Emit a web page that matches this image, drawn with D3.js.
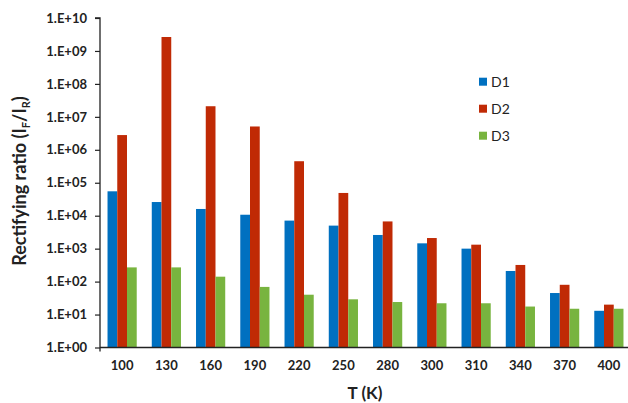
<!DOCTYPE html>
<html>
<head>
<meta charset="utf-8">
<script src="https://cdn.jsdelivr.net/npm/d3@7"></script>
<style>
html,body{margin:0;padding:0;background:#fff;}
svg{display:block;font-family:Lato, "Open Sans", sans-serif;}
</style>
</head>
<body>
<svg id="chart" width="628" height="403"></svg>
<script>
const categories = ["100","130","160","190","220","250","280","300","310","340","370","400"];
const seriesNames = ["D1","D2","D3"];
const D1 = [5.5e4, 2.6e4, 1.6e4, 1.07e4, 7.1e3, 5.0e3, 2.6e3, 1.45e3, 1.0e3, 210, 45, 13];
const D2 = [2.8e6, 2.65e9, 2.1e7, 5.1e6, 4.5e5, 4.9e4, 6.7e3, 2.1e3, 1.32e3, 320, 80, 20];
const D3 = [270, 270, 141, 69, 40, 29, 24, 22, 22, 17.5, 15, 15];
const yTicks = [1e0,1e1,1e2,1e3,1e4,1e5,1e6,1e7,1e8,1e9,1e10];
const colors = ["#0070c0","#c02a05","#78b43f"];

const svg = d3.select("#chart");
const mLeft = 100, mRight = 631, mTop = 18, mBottom = 347.5;

const x0 = d3.scaleBand().domain(categories).range([mLeft, mRight]).paddingInner(0.34).paddingOuter(0.17);
const x1 = d3.scaleBand().domain(seriesNames).range([0, x0.bandwidth()]);
const y = d3.scaleLog().domain([1, 1e10]).range([mBottom, mTop]);

const data = [D1, D2, D3];

const g = svg.append("g");
categories.forEach((c, i) => {
  seriesNames.forEach((s, j) => {
    g.append("rect")
      .attr("x", x0(c) + x1(s))
      .attr("width", x1.bandwidth())
      .attr("y", y(data[j][i]))
      .attr("height", y(1) - y(data[j][i]))
      .attr("fill", colors[j]);
  });
});

function fmt(v){ const e = Math.round(Math.log10(v)); return "1.E+" + (e<10?"0":"") + e; }

// y axis
const yAxis = d3.axisLeft(y).tickValues(yTicks).tickFormat(fmt).tickSize(5).tickPadding(8);
const ya = svg.append("g").attr("transform", `translate(${mLeft},0)`).call(yAxis);
ya.select(".domain").attr("stroke", "#222").attr("stroke-width", 1.3).attr("d", `M-5,${mTop}H0V${mBottom+4}`);
ya.selectAll(".tick line").attr("stroke", "#222").attr("stroke-width", 1.2);
ya.selectAll(".tick text").attr("fill", "#222").style("font-size", "13px").style("font-weight", "bold").style("font-family", "Lato, sans-serif");

// x axis
const xAxis = d3.axisBottom(x0).tickSize(0).tickPadding(13);
const xa = svg.append("g").attr("transform", `translate(0,${mBottom})`).call(xAxis);
xa.select(".domain").attr("stroke", "#222").attr("stroke-width", 1.3).attr("d", `M${mLeft},0H${mRight}`);
xa.selectAll(".tick text").attr("fill", "#222").style("font-size", "13px").style("font-weight", "bold").style("font-family", "Lato, sans-serif");

// axis titles
svg.append("text").attr("x", 365).attr("y", 399).attr("text-anchor", "middle")
  .style("font-size", "17px").style("font-weight", "bold").attr("fill", "#222").text("T (K)");

const yt = svg.append("text").attr("transform", "translate(26,181) rotate(-90)").attr("text-anchor", "middle")
  .style("font-size", "18px").style("font-weight", "bold").attr("fill", "#222");
yt.append("tspan").text("Rectifying ratio (I");
yt.append("tspan").attr("dy", 4).style("font-size", "11px").text("F");
yt.append("tspan").attr("dy", -4).text("/I");
yt.append("tspan").attr("dy", 4).style("font-size", "11px").text("R");
yt.append("tspan").attr("dy", -4).text(")");

// legend
const leg = svg.append("g");
seriesNames.forEach((s, j) => {
  const cy = 81.7 + j * 27;
  leg.append("rect").attr("x", 479).attr("y", cy - 4).attr("width", 8).attr("height", 8).attr("fill", colors[j]);
  leg.append("text").attr("x", 491).attr("y", cy + 5).style("font-size", "14px").attr("fill", "#222").text(s);
});
</script>
</body>
</html>
